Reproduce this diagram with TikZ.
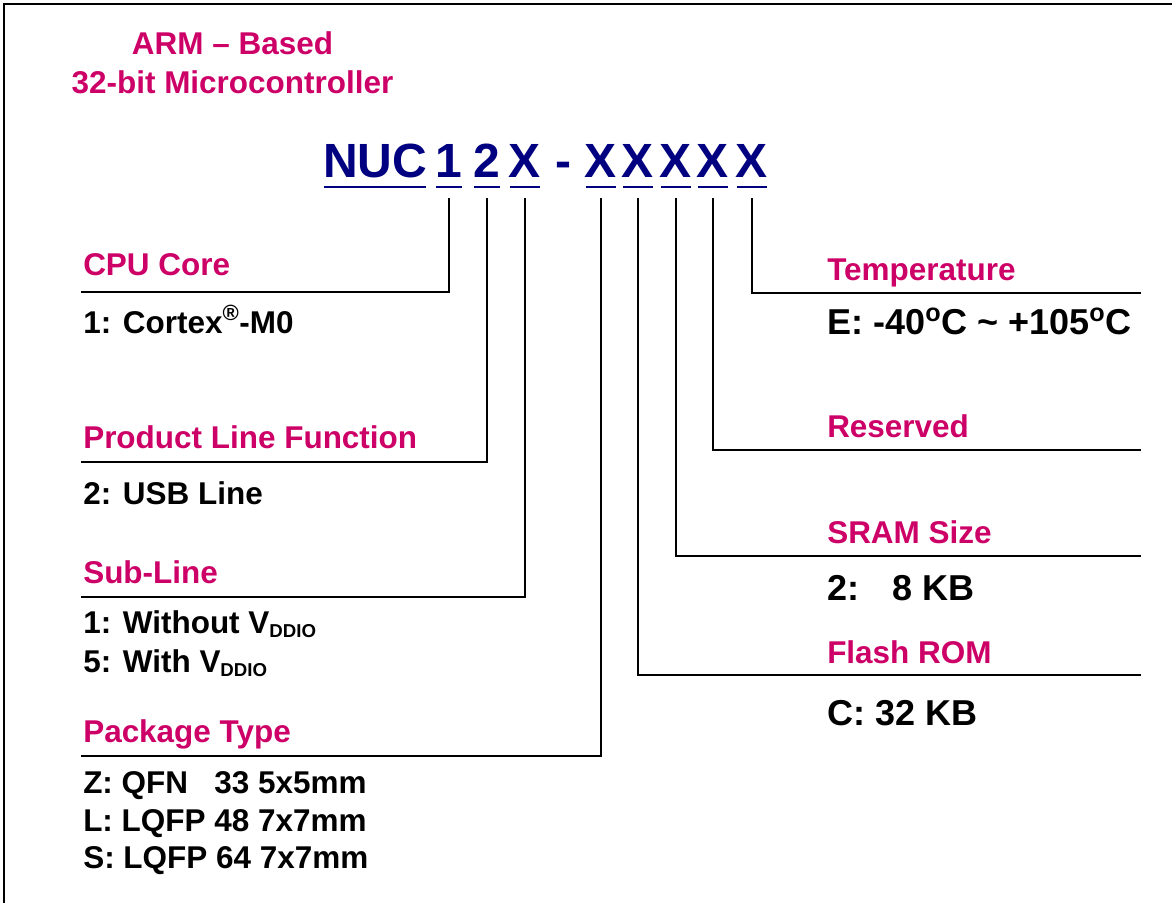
\documentclass[tikz,border=0pt]{standalone}
\usepackage{fontspec}
\setmainfont{Liberation Sans}
\usetikzlibrary{calc}
\definecolor{armred}{RGB}{204,0,102}
\definecolor{pnblue}{RGB}{0,0,128}
\tikzset{
  txt/.style={inner sep=0, font={\fontsize{23.6}{28}\selectfont\bfseries}},
  head/.style={txt, text=armred, anchor=base},
  cat/.style={txt, text=armred, anchor=base west},
  val/.style={txt, anchor=base west},
  bigval/.style={val, font={\fontsize{27}{32}\selectfont\bfseries}},
  pn/.style={inner sep=0, anchor=base, text=pnblue, font={\fontsize{36}{40}\selectfont\bfseries}},
  uline/.style={pnblue, line width=2.2pt, shorten <=0.8pt, shorten >=0.8pt},
  lead/.style={line width=2.2pt}
}
\newcommand{\vddio}{V\raisebox{-3pt}{\fontsize{14}{14}\selectfont DDIO}}
\begin{document}
\begin{tikzpicture}[x=0.75pt,y=-0.75pt]
	\useasboundingbox (0,0) rectangle (1172,903);
	\draw[line width=2.2pt] (4,903) -- (4,4) -- (1172,4);

	% title
	\node[head] (arm) at (232.5,55) {ARM -- Based};
	\node[head] (mcu) at (232.5,93) {32-bit Microcontroller};

	% part number
	\node[pn] (nuc) at (375,177) {NUC};
	\node[pn] (core) at (449,177) {1};
	\node[pn] (line) at (487,177) {2};
	\node[pn] (sub) at (525,177) {X};
	\node[pn] (dash) at (563,177) {-};
	\node[pn] (pkg) at (601,177) {X};
	\node[pn] (flash) at (638,177) {X};
	\node[pn] (sram) at (676,177) {X};
	\node[pn] (resv) at (713,177) {X};
	\node[pn] (temp) at (752,177) {X};
	\foreach \n in {nuc,core,line,sub,pkg,flash,sram,resv,temp}
		\draw[uline] ($(\n.base west)+(0,10)$) -- ($(\n.base east)+(0,10)$);

	% left side
	\node[cat] (corecat) at (83,275) {CPU Core};
	\node[val] (coreval) at (83,333) {1: Cortex\textsuperscript{®}-M0};
	\coordinate (coreend) at (81,292);

	\node[cat] (linecat) at (83,448) {Product Line Function};
	\node[val] (lineval) at (83,504) {2: USB Line};
	\coordinate (lineend) at (81,462);

	\node[cat] (subcat) at (83,583) {Sub-Line};
	\node[val] (subval1) at (83,633) {1: Without \vddio};
	\node[val] (subval2) at (83,672) {5: With \vddio};
	\coordinate (subend) at (81,597);

	\node[cat] (pkgcat) at (83,742) {Package Type};
	\node[val] (pkgval1) at (83,793) {Z: QFN\phantom{0} 33 5x5mm};
	\node[val] (pkgval2) at (83,831) {L: LQFP 48 7x7mm};
	\node[val] (pkgval3) at (83,868) {S: LQFP 64 7x7mm};
	\coordinate (pkgend) at (81,756);

	% right side
	\node[cat] (tempcat) at (827,280) {Temperature};
	\node[bigval] (tempval) at (827,334) {E: -40\textsuperscript{o}C \textasciitilde{} +105\textsuperscript{o}C};
	\coordinate (tempend) at (1141,293);

	\node[cat] (resvcat) at (827,437) {Reserved};
	\coordinate (resvend) at (1141,450);

	\node[cat] (sramcat) at (827,543) {SRAM Size};
	\node[bigval] (sramval) at (827,600) {2: \phantom{0}8 KB};
	\coordinate (sramend) at (1141,556);

	\node[cat] (flashcat) at (827,663) {Flash ROM};
	\node[bigval] (flashval) at (827,725) {C: 32 KB};
	\coordinate (flashend) at (1141,675);

	% leads
	\foreach \n in {core,line,sub,pkg,flash,sram,resv,temp}
		\draw[lead] ($(\n.base)+(0,21)$) |- (\n end);
\end{tikzpicture}
\end{document}
